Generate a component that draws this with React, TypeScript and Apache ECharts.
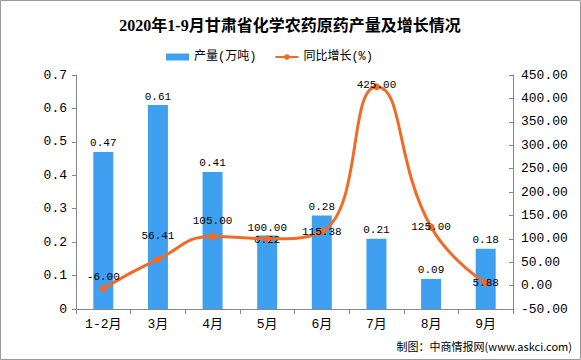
import React, { useEffect, useRef } from "react";
import * as echarts from "echarts";

const categories = ["1-2月", "3月", "4月", "5月", "6月", "7月", "8月", "9月"];
const output = [0.47, 0.61, 0.41, 0.22, 0.28, 0.21, 0.09, 0.18];
const growth = [-6.0, 56.41, 105.0, 100.0, 115.38, 425.0, 125.0, 5.88];
const titleText = "2020年1-9月甘肃省化学农药原药产量及增长情况";
const sourceText = "制图：中商情报网(www.askci.com)";

// vertical offset (px) of each growth label's centre from its point, as placed in the reference
const lineLabelShift = [-11, -23, -15, -11, 0, -2, 0, 0];

const MONO = "'Liberation Mono', 'Noto Sans CJK SC', monospace";
const SERIF = "'Liberation Serif', 'Noto Sans CJK SC', serif";

export default function App() {
  const ref = useRef<HTMLDivElement>(null);
  useEffect(() => {
    if (!ref.current) return;
    const chart = echarts.init(ref.current, undefined, { renderer: "svg" });
    chart.setOption({
      animation: false,
      backgroundColor: "#ffffff",
      title: {
        text: titleText,
        left: 285,
        textAlign: "center",
        top: 12,
        textStyle: { fontFamily: SERIF, fontSize: 16, fontWeight: "bold", color: "#000" },
      },
      legend: {
        top: 46,
        left: 161,
        itemGap: 18,
        itemWidth: 23,
        itemHeight: 7,
        textStyle: { fontFamily: MONO, fontSize: 12, color: "#000" },
        data: [
          { name: "产量(万吨)", icon: "rect" },
          { name: "同比增长(%)" },
        ],
      },
      grid: { left: 76, right: 68, top: 75, bottom: 51 },
      xAxis: {
        type: "category",
        data: categories,
        boundaryGap: true,
        axisLine: { lineStyle: { color: "#888" } },
        axisTick: { show: true, alignWithLabel: false, length: 5, lineStyle: { color: "#888" } },
        axisLabel: { fontFamily: MONO, fontSize: 13, color: "#000", margin: 9 },
      },
      yAxis: [
        {
          type: "value",
          min: 0,
          max: 0.7,
          interval: 0.1,
          axisLine: { show: true, lineStyle: { color: "#888" } },
          axisTick: { show: true, length: 4, lineStyle: { color: "#888" } },
          splitLine: { show: false },
          axisLabel: {
            fontFamily: MONO,
            fontSize: 13,
            color: "#000",
            margin: 9,
            formatter: (v: number) => (v === 0 ? "0" : v.toFixed(1)),
          },
        },
        {
          type: "value",
          min: -50,
          max: 450,
          interval: 50,
          position: "right",
          axisLine: { show: true, lineStyle: { color: "#888" } },
          axisTick: { show: true, inside: true, length: 4, lineStyle: { color: "#888" } },
          splitLine: { show: false },
          axisLabel: {
            fontFamily: MONO,
            fontSize: 13,
            color: "#000",
            margin: 8,
            formatter: (v: number) => v.toFixed(2),
          },
        },
      ],
      series: [
        {
          name: "产量(万吨)",
          type: "bar",
          data: output,
          barWidth: 20,
          itemStyle: { color: "#3F9FF0" },
          label: {
            show: true,
            position: "top",
            distance: 3,
            fontFamily: MONO,
            fontSize: 11,
            color: "#000",
            formatter: (p: any) => String(p.value),
          },
          labelLayout: (params: any) => {
            try {
              const i = params.dataIndex;
              const ly = chart.convertToPixel({ yAxisIndex: 1 }, growth[i]) as unknown as number;
              if (typeof ly !== "number" || isNaN(ly)) return {};
              const lr = params.labelRect;
              const c = ly + lineLabelShift[i];
              const lineLabelBottom = c + lr.height / 2;
              const lineLabelTop = c - lr.height / 2;
              if (lr.y < lineLabelBottom && lr.y + lr.height > lineLabelTop) {
                return { dy: lineLabelBottom + 1 - lr.y };
              }
            } catch (e) {
              /* ignore */
            }
            return {};
          },
        },
        {
          name: "同比增长(%)",
          type: "line",
          yAxisIndex: 1,
          data: growth,
          smooth: 0.5,
          symbol: "circle",
          symbolSize: 7,
          itemStyle: { color: "#F26B26" },
          lineStyle: { color: "#F26B26", width: 3 },
          label: {
            show: true,
            position: "inside",
            fontFamily: MONO,
            fontSize: 11,
            color: "#000",
            formatter: (p: any) => Number(p.value).toFixed(2),
          },
          labelLayout: (params: any) => ({ dy: lineLabelShift[params.dataIndex] || 0 }),
        },
      ],
      graphic: [
        {
          type: "rect",
          shape: { x: 0.5, y: 0.5, width: 580, height: 359 },
          style: { fill: "none", stroke: "#9a9a9a", lineWidth: 1 },
          silent: true,
        },
        {
          type: "text",
          right: 9,
          top: 340,
          style: {
            text: sourceText,
            fontFamily: "'Noto Sans CJK SC', sans-serif",
            fontSize: 11,
            fill: "#000",
          },
        },
      ],
    });
    return () => chart.dispose();
  }, []);
  return (
    <div
      ref={ref}
      style={{ position: "fixed", left: 0, top: 0, width: 581, height: 360 }}
    />
  );
}
